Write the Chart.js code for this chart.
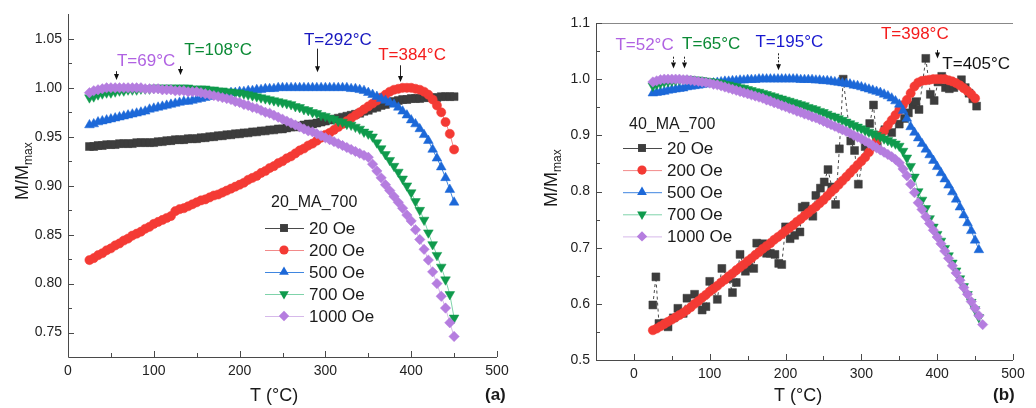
<!DOCTYPE html>
<html><head><meta charset="utf-8">
<script src="https://cdn.jsdelivr.net/npm/chart.js@4.4.0/dist/chart.umd.min.js"></script>
<style>
html,body{margin:0;padding:0;background:#fff;}
#wrap{position:relative;width:1036px;height:408px;overflow:hidden;}
canvas{position:absolute;top:0;}
#ca{left:0;} #cb{left:518px;}
</style></head><body>
<div id="wrap"><canvas id="ca" width="518" height="408"></canvas><canvas id="cb" width="518" height="408"></canvas></div>
<script>
const FONT = 'Arial, "Liberation Sans", Helvetica, sans-serif';
Chart.defaults.font.family = FONT;

// ---------------- Panel (a): 20_MA_700 ----------------
const seriesNames = ['20 Oe', '200 Oe', '500 Oe', '700 Oe', '1000 Oe'];
const tempA = [25,30,35,40,45,50,55,60,65,70,75,80,85,90,95,100,105,110,115,120,125,130,135,140,145,150,155,160,165,170,175,180,185,190,195,200,205,210,215,220,225,230,235,240,245,250,255,260,265,270,275,280,285,290,295,300,305,310,315,320,325,330,335,340,345,350,355,360,365,370,375,380,385,390,395,400,405,410,415,420,425,430,435,440,445,450];
const oe20A = [.940,.940,.941,.941,.942,.942,.942,.943,.943,.943,
.943,.944,.944,.944,.944,.944,.945,.945,.946,.946,
.947,.947,.947,.948,.948,.948,.949,.949,.950,.950,
.951,.951,.952,.952,.953,.953,.954,.954,.955,.955,
.956,.956,.957,.957,.958,.958,.959,.960,.960,.961,
.962,.963,.963,.964,.965,.966,.967,.968,.969,.970,
.971,.972,.973,.974,.976,.977,.979,.980,.982,.983,
.985,.986,.987,.988,.988,.989,.989,.989,.990,.990,
.990,.990,.991,.991,.991,.991];
const oe200A = [.824,.826,.829,.831,.834,.836,.839,.841,.844,.846,
.849,.851,.853,.856,.858,.861,.863,.865,.867,.869,
.874,.876,.877,.879,.881,.883,.885,.886,.888,.890,
.891,.893,.895,.897,.899,.901,.903,.906,.908,.910,
.913,.915,.918,.920,.923,.925,.928,.930,.933,.936,
.938,.941,.943,.946,.949,.952,.954,.957,.960,.963,
.966,.969,.972,.975,.978,.981,.984,.987,.990,.993,
.996,.998,.999,1.000,1.000,1.000,.999,.998,.996,.993,
.988,.982,.975,.965,.953,.937];
const oe500A = [.962,.963,.965,.966,.967,.968,.969,.970,.971,.972,
.973,.974,.975,.976,.978,.979,.980,.981,.982,.983,
.984,.985,.986,.986,.987,.988,.989,.990,.991,.992,
.993,.993,.994,.995,.995,.996,.996,.997,.997,.998,
.998,.999,.999,.999,1.000,1.000,1.000,1.000,1.000,1.000,
1.000,1.000,1.000,1.000,1.000,1.000,1.000,1.000,1.000,1.000,
1.000,.999,.999,.998,.997,.995,.993,.991,.989,.987,
.985,.983,.980,.976,.972,.967,.963,.958,.952,.946,
.937,.928,.919,.908,.896,.883];
const oe700A = [.990,.991,.993,.994,.995,.995,.996,.997,.997,.998,
.998,.998,.999,.999,.999,1.000,1.000,1.000,1.000,1.000,
1.000,1.000,1.000,1.000,.999,.999,.999,.999,.998,.998,
.997,.997,.996,.996,.995,.995,.994,.993,.992,.991,
.990,.989,.988,.987,.986,.985,.984,.983,.981,.980,
.978,.977,.975,.974,.972,.971,.969,.968,.966,.965,
.963,.962,.960,.958,.955,.953,.950,.944,.938,.932,
.926,.920,.914,.907,.900,.893,.884,.875,.865,.852,
.840,.829,.817,.804,.789,.765];
const oe1000A = [.995,.997,.998,.999,1.000,1.000,1.000,1.000,1.000,1.000,
1.000,1.000,1.000,.999,.999,.999,.999,.998,.998,.998,
.997,.997,.997,.996,.996,.996,.995,.994,.993,.992,
.991,.990,.989,.988,.986,.985,.983,.982,.980,.979,
.977,.975,.974,.972,.970,.968,.966,.964,.962,.960,
.958,.956,.955,.953,.951,.949,.947,.945,.943,.941,
.939,.937,.935,.933,.931,.929,.922,.915,.908,.901,
.895,.889,.883,.877,.870,.864,.855,.845,.835,.824,
.812,.800,.787,.775,.760,.746];

// ---------------- Panel (b): 40_MA_700 ----------------
const tempB = [25,30,35,40,45,50,55,60,65,70,75,80,85,90,95,100,105,110,115,120,125,130,135,140,145,150,155,160,165,170,175,180,185,190,195,200,205,210,215,220,225,230,235,240,245,250,255,260,265,270,275,280,285,290,295,300,305,310,315,320,325,330,335,340,345,350,355,360,365,370,375,380,385,390,395,400,405,410,415,420,425,430,435,440,445,450,455,460];
const tempB20 = [25,29,33,40,45,52,58,65,70,80,90,95,100,110,116,125,130,135,140,147,152,158,162,170,175,180,186,191,195,200,206,212,219,222,226,236,240,246,251,256,261,266,271,276,286,291,296,305,311,316,321,326,331,340,350,357,362,368,372,376,385,391,396,401,406,411,416,422,427,432,437,442,447,452];
const oe20B = [.598,.648,.565,.566,.559,.575,.592,.583,.610,.617,.589,.595,.640,.608,.663,.645,.620,.638,.688,.658,.665,.663,.708,.707,.690,.690,.688,.672,.670,.737,.716,.722,.728,.772,.774,.756,.793,.806,.817,.839,.808,.777,.876,1.000,.890,.873,.813,.880,.921,.954,.880,.900,.910,.905,.920,.930,.940,.954,.960,.946,1.037,.973,.962,.995,1.005,.985,.983,.985,.990,.999,.985,.975,.965,.952];
const oe200B = [.553,.556,.560,.564,.568,.572,.576,.580,.584,.589,
.594,.600,.605,.611,.616,.622,.627,.632,.638,.643,
.649,.654,.660,.665,.670,.676,.681,.687,.692,.698,
.703,.708,.714,.719,.724,.730,.735,.740,.746,.751,
.757,.762,.768,.773,.779,.785,.792,.799,.805,.812,
.819,.826,.833,.840,.847,.854,.861,.870,.880,.890,
.899,.908,.918,.927,.936,.945,.954,.963,.975,.987,
.994,.997,.998,.999,1.000,1.000,1.000,1.000,.998,.996,
.993,.989,.984,.979,.973,.966,null,null];
const oe500B = [.975,.976,.977,.978,.980,.981,.982,.983,.984,.986,
.987,.988,.989,.990,.991,.992,.993,.994,.995,.996,
.996,.997,.997,.998,.998,.999,.999,.999,1.000,1.000,
1.000,1.000,1.000,1.000,1.000,1.000,1.000,1.000,1.000,.999,
.999,.999,.999,.998,.998,.997,.997,.996,.995,.994,
.993,.992,.991,.989,.988,.986,.984,.982,.980,.978,
.976,.973,.970,.966,.961,.955,.944,.930,.915,.905,
.895,.885,.875,.865,.855,.844,.833,.822,.811,.799,
.786,.772,.758,.744,.730,.713,.696,null];
const oe700B = [.988,.991,.993,.995,.996,.997,.998,.999,1.000,1.000,
1.000,.999,.999,.998,.997,.996,.995,.994,.993,.991,
.990,.988,.987,.985,.984,.982,.980,.978,.977,.975,
.973,.971,.969,.967,.965,.963,.961,.959,.957,.955,
.953,.950,.948,.946,.943,.941,.938,.935,.933,.930,
.927,.924,.921,.918,.915,.912,.909,.906,.903,.900,
.897,.894,.891,.888,.885,.881,.872,.860,.845,.826,
.800,.785,.770,.752,.737,.724,.712,.699,.686,.673,
.659,.645,.631,.617,.603,.590,.576,null];
const oe1000B = [.995,.997,.999,1.000,1.000,1.000,1.000,1.000,.999,.999,
.998,.997,.996,.995,.994,.993,.991,.990,.988,.986,
.984,.982,.980,.978,.976,.974,.972,.970,.968,.966,
.963,.961,.958,.956,.953,.951,.948,.946,.943,.941,
.938,.936,.933,.931,.928,.925,.922,.919,.916,.913,
.910,.907,.904,.900,.897,.894,.890,.886,.882,.878,
.874,.870,.866,.862,.857,.851,.840,.828,.813,.798,
.780,.768,.755,.743,.731,.719,.707,.694,.681,.668,
.655,.642,.629,.617,.604,.592,.579,.563];

// ---------------- Ticks ----------------
const xTicksA = [0, 100, 200, 300, 400, 500];
const xTickLabelsA = ['0', '100', '200', '300', '400', '500'];
const xMinorA = [50, 150, 250, 350, 450];
const yTicksA = [0.75, 0.80, 0.85, 0.90, 0.95, 1.00, 1.05];
const yTickLabelsA = ['0.75', '0.80', '0.85', '0.90', '0.95', '1.00', '1.05'];
const yMinorA = [0.775, 0.825, 0.875, 0.925, 0.975, 1.025];
const xTicksB = [0, 100, 200, 300, 400, 500];
const xTickLabelsB = ['0', '100', '200', '300', '400', '500'];
const xMinorB = [-50, 50, 150, 250, 350, 450];
const yTicksB = [0.5, 0.6, 0.7, 0.8, 0.9, 1.0, 1.1];
const yTickLabelsB = ['0.5', '0.6', '0.7', '0.8', '0.9', '1.0', '1.1'];
const yMinorB = [0.55, 0.65, 0.75, 0.85, 0.95, 1.05];

// ---------------- Styles ----------------
const markerColors = ['#3d3d3d', '#f43a34', '#1c68d8', '#0f9a4c', '#b57ddf'];
const lineColors = ['#4a4a4a', '#f28a8a', '#3f86e0', '#7fd3aa', '#d6b9ea'];
const pointStyles = ['rect', 'circle', 'triangle', 'triangle', 'rectRot'];
const pointRot = [0, 0, 0, 180, 0];
const pointRad = [5.6, 4.6, 5.6, 5.6, 5.2];

function xy(xs, ys) {
  const out = [];
  for (let i = 0; i < xs.length; i++) if (ys[i] !== null && ys[i] !== undefined) out.push({x: xs[i], y: ys[i]});
  return out;
}
function makeDatasets(dataList, dashFirst) {
  return dataList.map((d, i) => ({
    label: seriesNames[i],
    data: d,
    borderColor: lineColors[i],
    borderWidth: 1,
    borderDash: (i === 0 && dashFirst) ? [3, 3] : [],
    backgroundColor: markerColors[i],
    pointBackgroundColor: markerColors[i],
    pointBorderColor: markerColors[i],
    pointBorderWidth: 0.5,
    pointStyle: pointStyles[i],
    pointRotation: pointRot[i],
    pointRadius: pointRad[i],
    tension: 0,
    order: 5 - i
  }));
}

function drawMarker(ctx, i, x, y) {
  const r = pointRad[i];
  ctx.fillStyle = markerColors[i];
  ctx.beginPath();
  const s = pointStyles[i];
  if (s === 'rect') { const h = r * Math.SQRT1_2; ctx.rect(x - h, y - h, 2 * h, 2 * h); }
  else if (s === 'circle') ctx.arc(x, y, r, 0, Math.PI * 2);
  else if (s === 'triangle') {
    const d = pointRot[i] ? -1 : 1;
    ctx.moveTo(x, y - d * r); ctx.lineTo(x + r * 0.866, y + d * r * 0.5); ctx.lineTo(x - r * 0.866, y + d * r * 0.5); ctx.closePath();
  } else { ctx.moveTo(x, y - r); ctx.lineTo(x + r, y); ctx.lineTo(x, y + r); ctx.lineTo(x - r, y); ctx.closePath(); }
  ctx.fill();
}

function decor(p) {
  return {
    id: 'decor',
    afterDraw(chart) {
      const ctx = chart.ctx, ca = chart.chartArea, xs = chart.scales.x, ys = chart.scales.y;
      ctx.save();
      // axis lines
      ctx.strokeStyle = '#4a4a4a'; ctx.lineWidth = 1;
      ctx.beginPath();
      ctx.moveTo(Math.round(ca.left) + 0.5, Math.round(ca.top));
      ctx.lineTo(Math.round(ca.left) + 0.5, Math.round(ca.bottom) + 0.5);
      ctx.lineTo(Math.round(ca.right), Math.round(ca.bottom) + 0.5);
      ctx.stroke();
      if (p.topLine) {
        ctx.strokeStyle = '#888';
        ctx.beginPath(); ctx.moveTo(Math.round(ca.left), Math.round(ca.top) + 0.5); ctx.lineTo(Math.round(ca.right), Math.round(ca.top) + 0.5); ctx.stroke();
      }
      // inward ticks
      ctx.strokeStyle = '#4a4a4a';
      const tick = (vals, len, horiz) => vals.forEach(v => {
        ctx.beginPath();
        if (horiz) { const x = Math.round(xs.getPixelForValue(v)) + 0.5; ctx.moveTo(x, ca.bottom); ctx.lineTo(x, ca.bottom - len); }
        else { const y = Math.round(ys.getPixelForValue(v)) + 0.5; ctx.moveTo(ca.left, y); ctx.lineTo(ca.left + len, y); }
        ctx.stroke();
      });
      tick(p.xTicks, 6, true); tick(p.xMinor, 4, true);
      tick(p.yTicks, 6, false); tick(p.yMinor, 4, false);

      ctx.fillStyle = '#1a1a1a';
      // x title
      ctx.font = '18px ' + FONT; ctx.textAlign = 'left'; ctx.textBaseline = 'alphabetic';
      ctx.fillText('T (°C)', p.xTitleX, 401);
      // y title with subscript
      ctx.save();
      ctx.translate(p.yTitleX, p.yTitleY); ctx.rotate(-Math.PI / 2);
      ctx.font = '18px ' + FONT; ctx.fillText('M/M', 0, 0);
      const w = ctx.measureText('M/M').width;
      ctx.font = '12px ' + FONT; ctx.fillText('max', w, 4);
      ctx.restore();
      // panel label
      ctx.font = 'bold 17px ' + FONT; ctx.fillText(p.panel, p.panelX, 400);

      // legend
      ctx.font = '16px ' + FONT; ctx.textBaseline = 'middle';
      ctx.fillText(p.legendTitle, p.legX, p.legTitleY);
      ctx.font = '17px ' + FONT;
      seriesNames.forEach((n, i) => {
        const y = p.legY0 + i * p.legDy;
        ctx.strokeStyle = lineColors[i]; ctx.lineWidth = 1;
        ctx.beginPath(); ctx.moveTo(p.legX - 6, y + 0.5); ctx.lineTo(p.legX + 33, y + 0.5); ctx.stroke();
        drawMarker(ctx, i, p.legX + 13, y);
        ctx.fillStyle = '#1a1a1a';
        ctx.fillText(n, p.legX + 38, y + 1);
      });

      // annotations
      ctx.font = '17px ' + FONT; ctx.textAlign = 'center'; ctx.textBaseline = 'middle';
      p.notes.forEach(a => {
        ctx.fillStyle = a.color;
        ctx.fillText(a.text, xs.getPixelForValue(a.tx), ys.getPixelForValue(a.ty));
      });
      p.arrows.forEach(a => {
        const x = Math.round(xs.getPixelForValue(a.x)) + 0.5;
        const y1 = ys.getPixelForValue(a.y1), y2 = ys.getPixelForValue(a.y2);
        ctx.strokeStyle = '#222'; ctx.lineWidth = 1;
        ctx.setLineDash(a.dash ? [2, 1.5] : []);
        ctx.beginPath(); ctx.moveTo(x, y1); ctx.lineTo(x, y2 - 5); ctx.stroke();
        ctx.setLineDash([]);
        ctx.fillStyle = '#111';
        ctx.beginPath(); ctx.moveTo(x - 2.5, y2 - 6); ctx.lineTo(x + 2.5, y2 - 6); ctx.lineTo(x, y2); ctx.closePath(); ctx.fill();
      });
      ctx.restore();
    }
  };
}

function makeChart(id, p) {
  return new Chart(document.getElementById(id), {
    type: 'line',
    data: { datasets: p.datasets },
    options: {
      responsive: false, animation: false, devicePixelRatio: 1,
      layout: { padding: { left: 0, top: p.padTop, right: p.padRight, bottom: 0 } },
      plugins: { legend: { display: false }, tooltip: { enabled: false } },
      scales: {
        x: {
          type: 'linear', min: p.xMin, max: p.xMax,
          grid: { display: false, drawTicks: false }, border: { display: false },
          ticks: { color: '#222', font: { size: 14 }, padding: 6, autoSkip: false, maxRotation: 0,
                   callback: (v, i) => p.xLabels[i] },
          afterBuildTicks: s => { s.ticks = p.xTicks.map(v => ({ value: v })); },
          afterFit: s => { s.height = p.xAxisH; }
        },
        y: {
          type: 'linear', min: p.yMin, max: p.yMax,
          grid: { display: false, drawTicks: false }, border: { display: false },
          ticks: { color: '#222', font: { size: 14 }, padding: 6, autoSkip: false,
                   callback: (v, i) => p.yLabels[i] },
          afterBuildTicks: s => { s.ticks = p.yTicks.map(v => ({ value: v })); },
          afterFit: s => { s.width = p.yAxisW; }
        }
      }
    },
    plugins: [decor(p)]
  });
}

makeChart('ca', {
  datasets: makeDatasets([xy(tempA, oe20A), xy(tempA, oe200A), xy(tempA, oe500A), xy(tempA, oe700A), xy(tempA, oe1000A)], false),
  xMin: 0, xMax: 500, yMin: 0.725, yMax: 1.075,
  xTicks: xTicksA, xLabels: xTickLabelsA, xMinor: xMinorA,
  yTicks: yTicksA, yLabels: yTickLabelsA, yMinor: yMinorA,
  padTop: 13, padRight: 21, xAxisH: 51, yAxisW: 68, topLine: false,
  xTitleX: 250, yTitleX: 28, yTitleY: 200, panel: '(a)', panelX: 485,
  legendTitle: '20_MA_700', legX: 271, legTitleY: 203, legY0: 228, legDy: 22,
  notes: [
    { text: 'T=69°C', color: '#b062e2', tx: 91, ty: 1.0274 },
    { text: 'T=108°C', color: '#0b8a35', tx: 175, ty: 1.0385 },
    { text: 'T=292°C', color: '#1818bf', tx: 314.5, ty: 1.0487 },
    { text: 'T=384°C', color: '#f41c1c', tx: 401, ty: 1.0335 }
  ],
  arrows: [
    { x: 56, y1: 1.017, y2: 1.008 },
    { x: 130, y1: 1.022, y2: 1.013 },
    { x: 290.6, y1: 1.040, y2: 1.016 },
    { x: 387, y1: 1.023, y2: 1.006 }
  ]
});

makeChart('cb', {
  datasets: makeDatasets([xy(tempB20, oe20B), xy(tempB, oe200B), xy(tempB, oe500B), xy(tempB, oe700B), xy(tempB, oe1000B)], true),
  xMin: -50, xMax: 500, yMin: 0.5, yMax: 1.1,
  xTicks: xTicksB, xLabels: xTickLabelsB, xMinor: xMinorB,
  yTicks: yTicksB, yLabels: yTickLabelsB, yMinor: yMinorB,
  padTop: 23, padRight: 23, xAxisH: 48, yAxisW: 78, topLine: true,
  xTitleX: 256, yTitleX: 39, yTitleY: 207, panel: '(b)', panelX: 475,
  legendTitle: '40_MA_700', legX: 111, legTitleY: 125, legY0: 148, legDy: 22.1,
  notes: [
    { text: 'T=52°C', color: '#b062e2', tx: 14, ty: 1.060 },
    { text: 'T=65°C', color: '#0b8a35', tx: 102, ty: 1.062 },
    { text: 'T=195°C', color: '#1818cf', tx: 205, ty: 1.0656 },
    { text: 'T=398°C', color: '#f41c1c', tx: 370.5, ty: 1.080 },
    { text: 'T=405°C', color: '#111111', tx: 451.5, ty: 1.0265 }
  ],
  arrows: [
    { x: 52, y1: 1.040, y2: 1.019, dash: true },
    { x: 66, y1: 1.040, y2: 1.019, dash: true },
    { x: 190, y1: 1.046, y2: 1.016, dash: true },
    { x: 400, y1: 1.052, y2: 1.037 }
  ]
});
</script>
</body></html>
